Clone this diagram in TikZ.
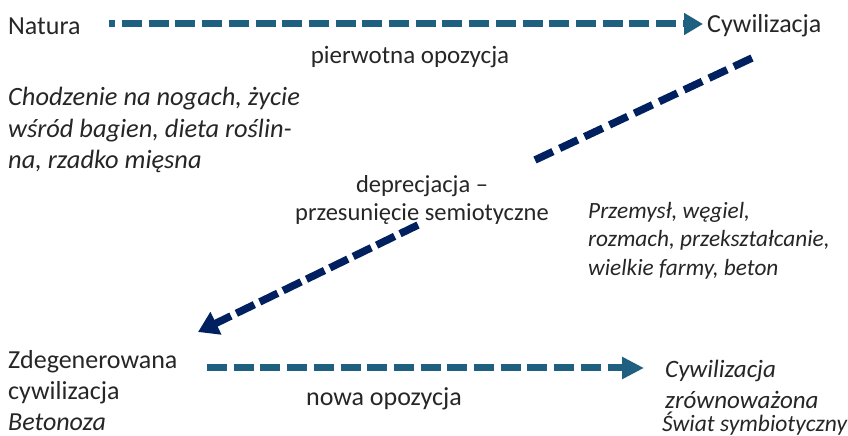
\documentclass[tikz,border=0pt]{standalone}
\usepackage{fontspec}
\setmainfont{Carlito}
\usetikzlibrary{arrows.meta}
\definecolor{teal1}{HTML}{1F5F80}
\definecolor{navy1}{HTML}{002060}
\definecolor{txt}{HTML}{262626}
\begin{document}
\begin{tikzpicture}[x=1pt,y=1pt,
  lbl/.style={inner sep=0pt,text=txt,font=\fontsize{26}{31}\selectfont},
  tealarrow/.style={draw=teal1,line width=7pt,dash pattern=on 20pt off 6.7pt},
  navyline/.style={draw=navy1,line width=7.5pt,dash pattern=on 20pt off 7.5pt}]
\useasboundingbox[fill=white] (0,0) rectangle (848,436);
% top row
\node[lbl,anchor=west] (natura) at (8,410) {Natura};
\node[lbl,anchor=west] (cyw) at (707,410) {Cywilizacja};
\node[lbl,font=\fontsize{25}{31}\selectfont] (pierw) at (410,379) {pierwotna opozycja};
\node[lbl,anchor=north west,align=left,font=\fontsize{26.4}{31.5}\selectfont\itshape] (chodz) at (8,349)
  {Chodzenie na nogach, życie\\wśród bagien, dieta roślin-\\na, rzadko mięsna};
% middle
\node[lbl,align=center,font=\fontsize{24.5}{28}\selectfont] (depr) at (422,236) {deprecjacja –\\przesunięcie semiotyczne};
\node[lbl,anchor=north west,align=left,font=\fontsize{23.3}{28.5}\selectfont\itshape] (przem) at (588,234)
  {Przemysł, węgiel,\\rozmach, przekształcanie,\\wielkie farmy, beton};
% bottom
\node[lbl,anchor=north west,align=left] (zdeg) at (8,86)
  {Zdegenerowana\\cywilizacja\\\textit{Betonoza}};
\node[lbl] (nowa) at (384,37) {nowa opozycja};
\node[lbl,anchor=north west,align=left,font=\fontsize{25}{30.5}\selectfont\itshape] (zrow) at (665,76)
  {Cywilizacja\\zrównoważona};
\node[lbl,anchor=west,font=\fontsize{23.5}{28}\selectfont\itshape] (swiat) at (662,12.5) {Świat symbiotyczny};
% connector end points
\coordinate (a1) at (109,412);
\coordinate (a2) at (703,412);
\coordinate (d1) at (752,378);
\coordinate (d2) at (535,276);
\coordinate (e1) at (418,211);
\coordinate (e2) at (198,104);
\coordinate (b1) at (207,68);
\coordinate (b2) at (644,68);
\draw[tealarrow,dash phase=13.7pt,-{Triangle[length=19pt,width=21pt]}] (a1) -- (a2);
\draw[navyline] (d1) -- (d2);
\draw[navyline,dash pattern=on 20pt off 6pt,-{Triangle[length=20pt,width=24pt]}] (e1) -- (e2);
\draw[tealarrow,-{Triangle[length=22pt,width=21pt]}] (b1) -- (b2);
\end{tikzpicture}
\end{document}
